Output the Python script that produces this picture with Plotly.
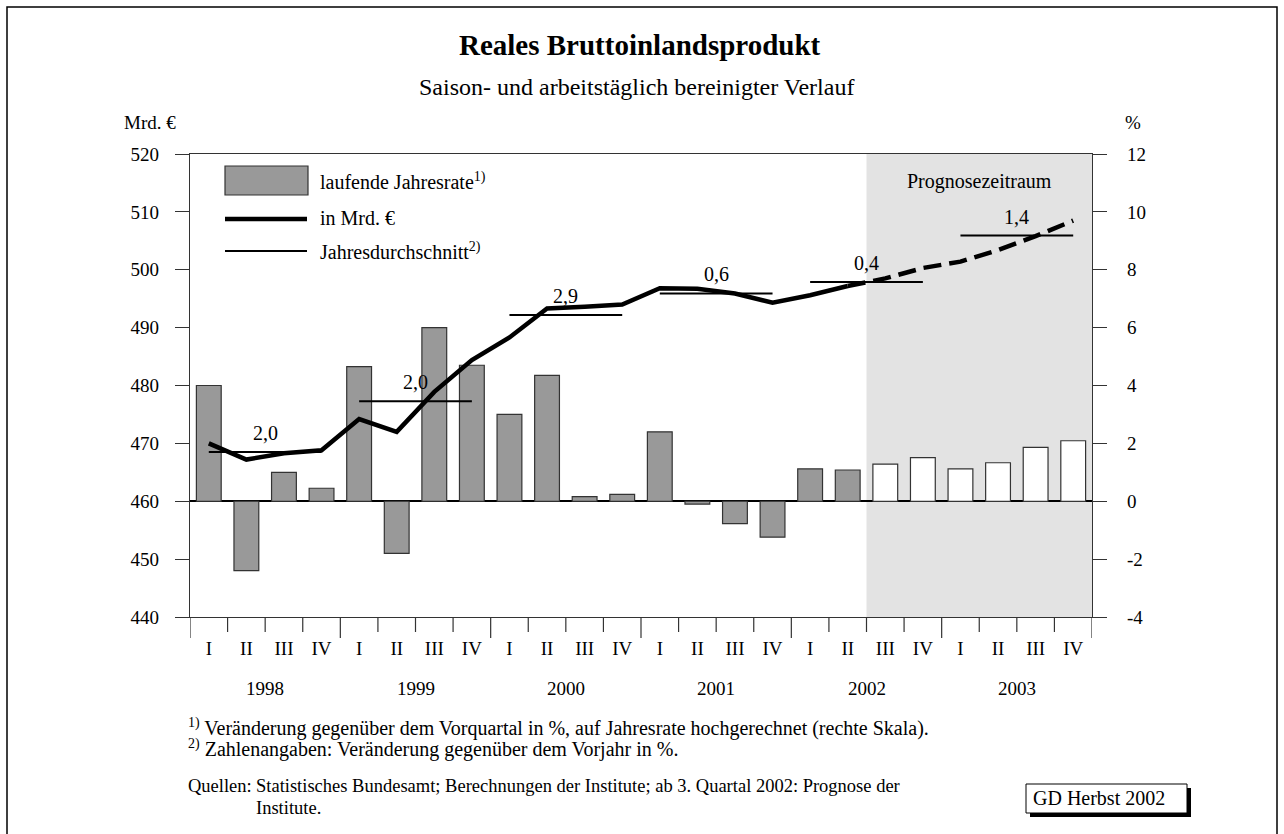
import plotly.graph_objects as go

# --- data ---
years = ["1998", "1999", "2000", "2001", "2002", "2003"]
quarters = ["I", "II", "III", "IV"]

# laufende Jahresrate in % (rechte Skala)
rate_pct = [4.0, -2.4, 1.0, 0.45,
            4.65, -1.8, 6.0, 4.7,
            3.0, 4.35, 0.16, 0.24,
            2.4, -0.1, -0.77, -1.24,
            1.12, 1.08, 1.28, 1.51,
            1.12, 1.33, 1.86, 2.09]

# BIP in Mrd. Euro (linke Skala)
bip_mrd = [470.0, 467.2, 468.3, 468.8,
           474.2, 472.0, 478.9, 484.4,
           488.3, 493.3, 493.6, 494.0,
           496.8, 496.7, 495.9, 494.3,
           495.6, 497.2, 498.5, 500.3,
           501.4, 503.4, 505.8, 508.5]

# Jahresdurchschnitt (Niveau) und Veränderung gegenüber Vorjahr
year_avg_mrd = [468.5, 477.3, 492.2, 495.9, 497.9, 505.9]
year_avg_label = ["2,0", "2,0", "2,9", "0,6", "0,4", "1,4"]

n_actual = 18  # ab 3. Quartal 2002 Prognose

# --- layout helpers (pixel -> paper) ---
W, H = 1284, 834
L, R, T, B = 190, 1092, 154, 617


def px(x):
    return (x - L) / (R - L)


def py(y):
    return (B - y) / (B - T)


FONT = "Liberation Serif, Times New Roman, serif"
n = len(rate_pct)
xs = list(range(n))
qlabels = [quarters[i % 4] for i in xs]

fig = go.Figure()

bar_colors = ["#999999" if i < n_actual else "#ffffff" for i in xs]
fig.add_trace(go.Bar(x=xs, y=rate_pct, yaxis="y", width=0.66,
                     marker=dict(color=bar_colors, line=dict(color="#333333", width=1.2)),
                     showlegend=False))

# Jahresdurchschnitt lines
ax, ay = [], []
for k, v in enumerate(year_avg_mrd):
    ax += [4 * k, 4 * k + 3, None]
    ay += [v, v, None]
fig.add_trace(go.Scatter(x=ax, y=ay, yaxis="y2", mode="lines",
                         line=dict(color="black", width=2), showlegend=False))

# BIP line: solid until 2002 II, dashed afterwards
fig.add_trace(go.Scatter(x=xs[:n_actual], y=bip_mrd[:n_actual], yaxis="y2", mode="lines",
                         line=dict(color="black", width=4.5), showlegend=False))
fig.add_trace(go.Scatter(x=xs[n_actual - 1:], y=bip_mrd[n_actual - 1:], yaxis="y2", mode="lines",
                         line=dict(color="black", width=4.5, dash="18px,8px"), showlegend=False))

shapes = []
# Prognosezeitraum
shapes.append(dict(type="rect", xref="x", yref="paper", x0=n_actual - 0.5, x1=n - 0.5,
                   y0=0, y1=1, fillcolor="#e3e3e3", line=dict(width=0), layer="below"))
# boundary ticks on x axis
for b in range(n + 1):
    ln = 21 if b % 4 == 0 else 15
    shapes.append(dict(type="line", xref="x", yref="paper", x0=b - 0.5, x1=b - 0.5,
                       y0=0, y1=-ln / (B - T), line=dict(color="#333333", width=1.2)))

# manual legend
shapes.append(dict(type="rect", xref="paper", yref="paper", x0=px(225), x1=px(308),
                   y0=py(195), y1=py(166), fillcolor="#999999", line=dict(color="#333333", width=1.2)))
shapes.append(dict(type="line", xref="paper", yref="paper", x0=px(225), x1=px(307),
                   y0=py(219), y1=py(219), line=dict(color="black", width=4.5)))
shapes.append(dict(type="line", xref="paper", yref="paper", x0=px(225), x1=px(307),
                   y0=py(251), y1=py(251), line=dict(color="black", width=2)))

# GD box with shadow
shapes.append(dict(type="rect", xref="paper", yref="paper", x0=px(1030), x1=px(1191),
                   y0=py(817), y1=py(788), fillcolor="black", line=dict(width=0)))
shapes.append(dict(type="rect", xref="paper", yref="paper", x0=px(1026), x1=px(1187),
                   y0=py(813), y1=py(784), fillcolor="white", line=dict(color="black", width=1)))
# outer frame
shapes.append(dict(type="rect", xref="paper", yref="paper", x0=px(7), x1=px(1277),
                   y0=py(870), y1=py(7), line=dict(color="black", width=1.5)))

ann = []


def txt(x, y, s, size=18, xanchor="center", xref="paper", yref="paper", **kw):
    ann.append(dict(x=x, y=y, xref=xref, yref=yref, text=s, showarrow=False,
                    xanchor=xanchor, yanchor="middle",
                    font=dict(family=FONT, size=size, color="black"), **kw))


txt(px(640), py(45), "<b>Reales Bruttoinlandsprodukt</b>", size=29)
txt(px(636), py(87), "Saison- und arbeitstäglich bereinigter Verlauf", size=24)
txt(px(122), py(122), "Mrd. €", size=19, xanchor="left")
txt(px(1133), py(122), "%", size=19)

txt(px(318), py(181), "laufende Jahresrate<sup>1)</sup>", size=20, xanchor="left")
txt(px(318), py(218), "in Mrd. €", size=20, xanchor="left")
txt(px(318), py(251), "Jahresdurchschnitt<sup>2)</sup>", size=20, xanchor="left")

txt((n_actual - 0.5 + n - 0.5) / 2, py(181), "Prognosezeitraum", size=20, xref="x")

for k, lab in enumerate(year_avg_label):
    txt(4 * k + 1.5, year_avg_mrd[k], lab, size=20, xref="x", yref="y2", yshift=19)
    txt(4 * k + 1.5, py(688), years[k], size=19, xref="x")

txt(px(186), py(727), "<sup>1)</sup> Veränderung gegenüber dem Vorquartal in %, auf Jahresrate hochgerechnet (rechte Skala).",
    size=20, xanchor="left")
txt(px(186), py(748), "<sup>2)</sup> Zahlenangaben: Veränderung gegenüber dem Vorjahr in %.", size=20, xanchor="left")
txt(px(186), py(786), "Quellen:", size=18.5, xanchor="left")
txt(px(254), py(786), "Statistisches Bundesamt; Berechnungen der Institute; ab 3. Quartal 2002: Prognose der",
    size=18.5, xanchor="left")
txt(px(254), py(808), "Institute.", size=18.5, xanchor="left")
txt(px(1099), py(798), "GD Herbst 2002", size=20)

pct_ticks = list(range(-4, 13, 2))
mrd_ticks = list(range(440, 521, 10))

fig.update_layout(
    width=W, height=H,
    margin=dict(l=L, r=W - R, t=T, b=H - B),
    paper_bgcolor="white", plot_bgcolor="white",
    font=dict(family=FONT, size=19, color="black"),
    bargap=0.3,
    shapes=shapes, annotations=ann,
    xaxis=dict(range=[-0.5, n - 0.5], tickvals=xs, ticktext=qlabels, ticks="",
               showline=True, mirror=True, linecolor="#333333", linewidth=1.2,
               showgrid=False, zeroline=False, ticklabelstandoff=14,
               tickfont=dict(family=FONT, size=19)),
    yaxis=dict(side="right", range=[-4, 12], tickvals=pct_ticks,
               ticktext=[str(v) for v in pct_ticks],
               ticks="outside", ticklen=14, tickcolor="#333333",
               showline=True, linecolor="#333333", linewidth=1.2,
               showgrid=False, zeroline=True, zerolinecolor="black", zerolinewidth=1.5,
               ticklabelstandoff=16, tickfont=dict(family=FONT, size=19)),
    yaxis2=dict(side="left", overlaying="y", range=[440, 520], tickvals=mrd_ticks,
                ticks="outside", ticklen=14, tickcolor="#333333",
                showline=True, linecolor="#333333", linewidth=1.2,
                showgrid=False, zeroline=False,
                ticklabelstandoff=12, tickfont=dict(family=FONT, size=19)),
)

fig.write_html("out.html", config={"displayModeBar": False},
               post_script="document.body.style.margin='0px';")
